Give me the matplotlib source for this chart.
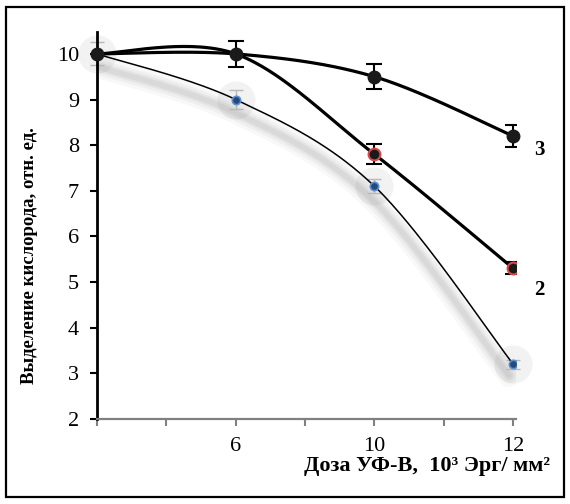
import numpy as np
import matplotlib
matplotlib.use("Agg")
import matplotlib.pyplot as plt
from matplotlib.patches import Rectangle

# Data
dose_labels = ["", "6", "10", "12"]
curve1 = [10.0, 9.0, 7.1, 3.2]
curve2 = [10.0, 10.0, 7.8, 5.3]
curve3 = [10.0, 10.0, 9.5, 8.2]
err1 = [0.25, 0.2, 0.15, 0.1]
err2 = [0.0, 0.0, 0.22, 0.13]
err3 = [0.3, 0.28, 0.27, 0.25]

plt.rcParams['font.family'] = ['Liberation Serif', 'DejaVu Serif']


def smooth(xs, ys, n=60):
    # Excel-like smoothed line (Catmull-Rom as cubic Bezier)
    p = np.column_stack([xs, ys]).astype(float)
    pts = np.vstack([p[0], p, p[-1]])
    out = []
    t = np.linspace(0, 1, n)[:, None]
    for i in range(1, len(pts) - 2):
        p0, p1, p2, p3 = pts[i - 1], pts[i], pts[i + 1], pts[i + 2]
        c1 = p1 + (p2 - p0) / 6
        c2 = p2 - (p3 - p1) / 6
        seg = ((1 - t) ** 3) * p1 + 3 * ((1 - t) ** 2) * t * c1 + 3 * (1 - t) * t ** 2 * c2 + t ** 3 * p2
        out.append(seg)
    seg = np.vstack(out)
    return seg[:, 0], seg[:, 1]


fig = plt.figure(figsize=(5.7, 5.04), dpi=100)
ax = fig.add_axes([97 / 570, 1 - 419 / 504, (516 - 97) / 570, (419 - 32) / 504])

x = np.arange(len(dose_labels))

# soft shadow under the thin curve
sx, sy = smooth(x, curve1)
for w, a in [(16, 0.05), (11, 0.07), (7, 0.09), (4, 0.1)]:
    ax.plot(sx - 0.03, np.array(sy) - 0.25, color="gray", lw=w, alpha=a, solid_capstyle="round", zorder=1)
for xi, yi in zip(x, curve1):
    ax.scatter([xi], [yi], s=750, color="gray", alpha=0.1, lw=0, zorder=1, clip_on=False)

ax.plot(sx, sy, color="black", lw=1.1, zorder=3)
sx, sy = smooth(x, curve2)
ax.plot(sx, sy, color="black", lw=2.3, zorder=3)
sx, sy = smooth(x, curve3)
ax.plot(sx, sy, color="black", lw=2.3, zorder=3)

# error bars
ax.errorbar(x, curve1, yerr=err1, fmt="none", ecolor="#b8b8b8", elinewidth=1, capsize=5, zorder=2, clip_on=False)
ax.errorbar(x[2:], curve2[2:], yerr=err2[2:], fmt="none", ecolor="black", elinewidth=1.5, capsize=6, capthick=1.5, zorder=4)
ax.errorbar(x[1:], curve3[1:], yerr=err3[1:], fmt="none", ecolor="black", elinewidth=1.5, capsize=6, capthick=1.5, zorder=4)

# markers
ax.plot(x[1:], curve1[1:], "o", ms=6, mfc="#274a7a", mec="#5b8fd0", mew=1.2, zorder=5)
ax.plot(x[2:], curve2[2:], "o", ms=8.5, mfc="#1a1a1a", mec="#d84848", mew=1.5, zorder=5)
ax.plot(x, curve3, "o", ms=9, mfc="#1a1a1a", mec="#1a1a1a", zorder=5, clip_on=False)

ax.text(3.19, 7.9, "3", fontsize=15, fontweight="bold", ha="center", va="center")
ax.text(3.19, 4.83, "2", fontsize=15, fontweight="bold", ha="center", va="center")

ax.set_xlim(0, 3.02)
ax.set_ylim(2, 10.48)
ax.set_xticks(x[1:])
ax.set_xticklabels(dose_labels[1:])
ax.set_xticks(np.arange(0, 3.01, 0.5), minor=True)
ax.set_yticks(np.arange(2, 11, 1))

for s in ["top", "right"]:
    ax.spines[s].set_visible(False)
ax.spines["left"].set_color("black")
ax.spines["left"].set_linewidth(2)
ax.spines["bottom"].set_color("#808080")
ax.spines["bottom"].set_linewidth(1.6)
ax.set_facecolor("none")

ax.tick_params(axis="y", direction="out", length=5, width=1.5, color="black", labelsize=16, pad=8)
ax.tick_params(axis="x", which="both", direction="out", length=5, width=1.5, color="#808080", labelsize=16, pad=8)

fig.text(30 / 570, 1 - 256 / 504, "Выделение кислорода, отн. ед.", rotation=90,
         ha="center", va="center", fontsize=13.5, fontweight="bold")
fig.text(427 / 570, 1 - 466 / 504, "Доза УФ-В,  10³ Эрг/ мм²",
         ha="center", va="center", fontsize=16, fontweight="bold")

fig.patches.append(Rectangle((6 / 570, 1 - 497 / 504), 558 / 570, 490 / 504,
                             transform=fig.transFigure, fill=False, ec="black", lw=1.6))

fig.savefig("out.png", dpi=100)
